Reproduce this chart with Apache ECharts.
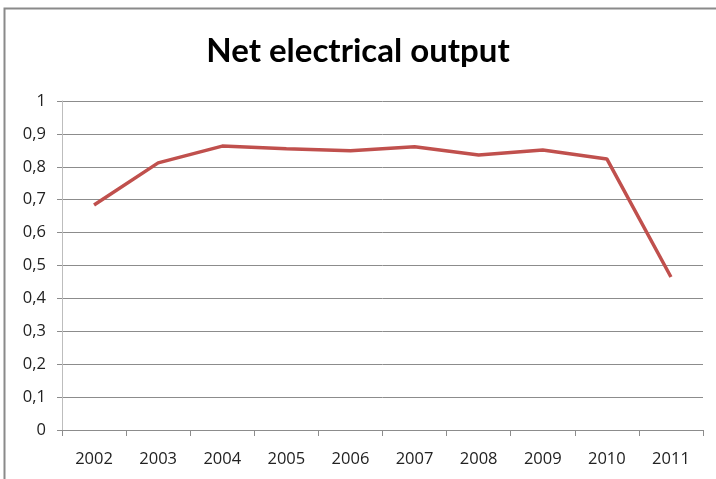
<!DOCTYPE html>
<html><head><meta charset="utf-8">
<script src="https://cdn.jsdelivr.net/npm/echarts@6/dist/echarts.min.js"></script>
<style>html,body{margin:0;padding:0;background:#fff}#c{width:716px;height:479px}</style>
</head><body><div id="c"></div>
<script>
var title = "Net electrical output";
var years = ["2002","2003","2004","2005","2006","2007","2008","2009","2010","2011"];
var output = [0.684, 0.812, 0.863, 0.855, 0.849, 0.861, 0.836, 0.851, 0.824, 0.465];

var chart = echarts.init(document.getElementById('c'));
chart.setOption({
  animation: false,
  backgroundColor: '#fff',
  graphic: [{
    type: 'rect', shape: {x: 4.5, y: 8.5, width: 720, height: 480},
    style: {fill: 'none', stroke: '#8a8a8a', lineWidth: 2}
  }],
  title: {
    text: title, left: 'center', top: 30,
    textStyle: {fontFamily: 'Lato', fontWeight: 'bold', fontSize: 33, color: '#000'}
  },
  grid: {left: 62, right: 13, top: 101, bottom: 49},
  xAxis: {
    type: 'category', data: years, boundaryGap: true,
    axisLine: {lineStyle: {color: '#8c8c8c', width: 1}},
    axisTick: {show: true, length: 6, lineStyle: {color: '#8c8c8c'}},
    axisLabel: {color: '#222', fontFamily: 'Open Sans', fontSize: 16.5, margin: 21}
  },
  yAxis: {
    type: 'value', min: 0, max: 1, interval: 0.1,
    axisLine: {show: true, lineStyle: {color: '#bdbdbd', width: 1}},
    axisTick: {show: true, length: 5, lineStyle: {color: '#8c8c8c'}},
    splitLine: {lineStyle: {color: '#8c8c8c', width: 1}},
    axisLabel: {color: '#222', fontFamily: 'Open Sans', fontSize: 16.5, margin: 16,
      formatter: function (v) { return String(Math.round(v * 10) / 10).replace('.', ','); }}
  },
  series: [{
    type: 'line', data: output, showSymbol: false, symbol: 'none',
    lineStyle: {color: '#c0504d', width: 3.5}
  }]
});
</script></body></html>
